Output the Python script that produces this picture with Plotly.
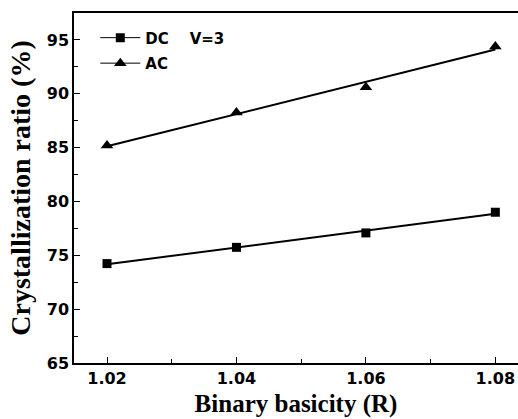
import numpy as np
import plotly.graph_objects as go

basicity = [1.02, 1.04, 1.06, 1.08]
dc_ratio = [74.23, 75.74, 77.08, 79.0]
ac_ratio = [85.2, 88.25, 90.6, 94.4]
x_ticks = [1.02, 1.04, 1.06, 1.08]
y_ticks = [65, 70, 75, 80, 85, 90, 95]

fig = go.Figure()

def add_series(name, ys, symbol, msize):
    xs = np.array(basicity)
    k, b = np.polyfit(xs, np.array(ys), 1)
    fx = [xs[0], xs[-1]]
    fig.add_trace(go.Scatter(x=fx, y=[k * v + b for v in fx], mode="lines",
                             line=dict(color="black", width=2),
                             showlegend=False, hoverinfo="skip"))
    fig.add_trace(go.Scatter(x=basicity, y=ys, mode="markers",
                             marker=dict(symbol=symbol, size=msize, color="black"),
                             showlegend=False))
    fig.add_trace(go.Scatter(x=[None], y=[None], mode="lines+markers", name=name,
                             legendgroup=name,
                             line=dict(color="black", width=1),
                             marker=dict(symbol=symbol, size=msize, color="black")))

add_series("DC\u00a0\u00a0\u00a0\u00a0V=3", dc_ratio, "square", 9)
add_series("AC", ac_ratio, "triangle-up", 11)

tickfont = dict(family="DejaVu Sans", size=16, color="black", weight="bold")
fig.update_layout(
    width=518, height=419,
    margin=dict(l=74, r=0, t=13, b=56),
    plot_bgcolor="white", paper_bgcolor="white",
    font=dict(family="DejaVu Sans", color="black"),
    legend=dict(x=0.048, y=0.976, xanchor="left", yanchor="top",
                bgcolor="rgba(0,0,0,0)", borderwidth=0, traceorder="grouped",
                font=dict(family="DejaVu Sans", size=15, color="black", weight="bold"),
                tracegroupgap=3, itemwidth=40),
    xaxis=dict(range=[1.0149, 1.0835], tickvals=x_ticks, ticktext=[f"{v:.2f}" for v in x_ticks],
               ticks="inside", ticklen=6, tickwidth=1.2, tickcolor="black",
               minor=dict(tickvals=[1.03, 1.05, 1.07], ticks="inside", ticklen=4, tickcolor="black"),
               showline=True, linecolor="black", linewidth=1.5, mirror=True,
               showgrid=False, zeroline=False, tickfont=tickfont,
               title=dict(text="<b>Binary basicity (R)</b>", standoff=8,
                          font=dict(family="Liberation Serif, Times New Roman", size=25, color="black"))),
    yaxis=dict(range=[65, 97.5], tickvals=y_ticks,
               ticks="inside", ticklen=6, tickwidth=1.2, tickcolor="black",
               minor=dict(tickvals=[67.5, 72.5, 77.5, 82.5, 87.5, 92.5, 97.5], ticks="inside", ticklen=4, tickcolor="black"),
               showline=True, linecolor="black", linewidth=1.5, mirror=False,
               showgrid=False, zeroline=False, tickfont=tickfont,
               title=dict(text="<b>Crystallization ratio (%)</b>", standoff=8,
                          font=dict(family="Liberation Serif, Times New Roman", size=28, color="black"))),
)

fig.write_html("out.html")
